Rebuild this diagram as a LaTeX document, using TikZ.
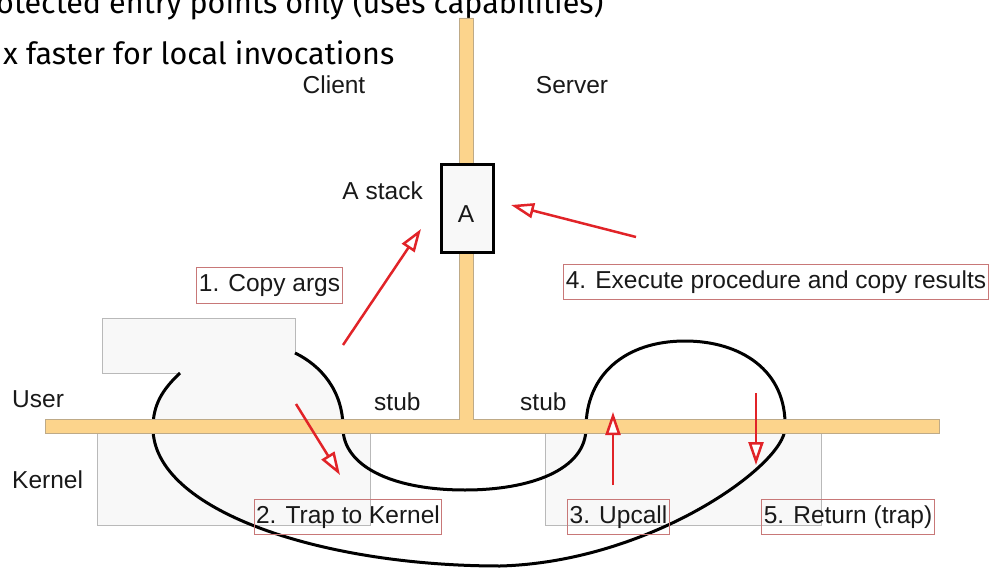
\documentclass[tikz,border=0pt]{standalone}
\usepackage{fontspec}
\setmainfont{Liberation Sans}
\newfontfamily\slidefont{Fira Sans}
\usetikzlibrary{arrows.meta, positioning}

\definecolor{barorange}{RGB}{252,212,140}
\definecolor{baredge}{RGB}{190,170,135}
\definecolor{ringgray}{RGB}{248,248,248}
\definecolor{ringedge}{RGB}{185,185,185}
\definecolor{stepred}{RGB}{225,35,40}
\definecolor{boxedge}{RGB}{200,120,120}

\begin{document}
\begin{tikzpicture}[
    x=1pt, y=-1pt,
    txt/.style={font=\fontsize{24.5}{28}\selectfont, text=black!90, inner sep=0pt},
    stepbox/.style={draw=boxedge, line width=1pt, font=\fontsize{24.5}{28}\selectfont,
                    text=black!90, text height=18pt, text depth=5.5pt,
                    inner xsep=2pt, inner ysep=6pt},
    ringarea/.style={fill=ringgray, draw=ringedge, line width=1pt},
    ctrlpath/.style={draw=black, line width=3pt},
    arrow/.style={-{Triangle[length=23pt, width=15pt, fill=white]}, draw=stepred, line width=2.5pt},
    slide/.style={font=\slidefont\fontsize{30.5}{34}\selectfont, text=black, inner sep=0pt},
]
    \useasboundingbox (0,0) rectangle (990,569);
    \clip (0,0) rectangle (990,569);

    % slide text behind the picture
    \node[slide, anchor=base west] (bullet1) at (-4,14) {otected entry points only (uses capabilities)};
    \node[slide, anchor=base west] (bullet2) at (3,65) {x faster for local invocations};

    % kernel areas
    \draw[ringarea] (97,433) rectangle (370,525);
    \draw[ringarea] (545,433) rectangle (821,525);

    % client user area
    \fill[ringgray] (102,318) -- (295,318) -- (295,353)
        .. controls (320,365) and (343,390) .. (343,428) -- (153,428)
        .. controls (153,405) and (162,390) .. (180,373) -- (102,373) -- cycle;
    \draw[ringedge, line width=1pt] (180,373) -- (102,373) -- (102,318) -- (295,318) -- (295,353);

    % control path
    \draw[ctrlpath] (180,373) .. controls (162,390) and (153,405) .. (153,428)
        .. controls (153,510) and (320,566) .. (500,566)
        .. controls (650,562) and (785,465) .. (785,428)
        .. controls (787,370) and (740,341) .. (685,341)
        .. controls (625,341) and (586,375) .. (586,428)
        .. controls (586,470) and (530,490) .. (465,490)
        .. controls (390,490) and (343,465) .. (343,428)
        .. controls (343,390) and (320,365) .. (295,353);

    % user/kernel boundary and client/server split
    \draw[fill=barorange, draw=baredge, line width=0.8pt]
        (459,18) -- (473,18) -- (473,419) -- (939,419) -- (939,433)
        -- (45,433) -- (45,419) -- (459,419) -- cycle;

    \node[draw=black, line width=3pt, fill=ringgray, minimum width=52pt,
          minimum height=88pt, inner sep=0pt] (stackA) at (467,208.5) {};
    \node[txt, anchor=base] (letterA) at (466,223) {A};
    \node[txt, anchor=base east] (stacklabel) at (423,200) {A stack};

    \node[txt, anchor=base] (client) at (334,94) {Client};
    \node[txt, anchor=base] (server) at (572,94) {Server};
    \node[txt, anchor=base west] (user) at (12,407) {User};
    \node[txt, anchor=base west] (kernel) at (12,488) {Kernel};
    \node[txt, anchor=base west] (stubC) at (374,410) {stub};
    \node[txt, anchor=base west] (stubS) at (520,410) {stub};

    \node[stepbox] (copyargs) at (269.5,285.5) {1. Copy args};
    \node[stepbox] (trap)     at (348,517)     {2. Trap to Kernel};
    \node[stepbox] (upcall)   at (618.5,517)   {3. Upcall};
    \node[stepbox] (execute)  at (776,282)     {4. Execute procedure and copy results};
    \node[stepbox] (ret)      at (848,517)     {5. Return (trap)};

    \coordinate (copyfrom) at (343,345);  \coordinate (copyto) at (421,229);
    \coordinate (trapfrom) at (296,404);  \coordinate (trapto) at (340,475);
    \coordinate (upfrom)   at (613,485);  \coordinate (upto)   at (613,412);
    \coordinate (execfrom) at (636,237);  \coordinate (execto) at (511,205);
    \coordinate (retfrom)  at (756,393);  \coordinate (retto)  at (756,465);

    \draw[arrow] (copyfrom) -- (copyto);
    \draw[arrow] (trapfrom) -- (trapto);
    \draw[arrow] (upfrom)   -- (upto);
    \draw[arrow] (execfrom) -- (execto);
    \draw[arrow] (retfrom)  -- (retto);
\end{tikzpicture}
\end{document}
